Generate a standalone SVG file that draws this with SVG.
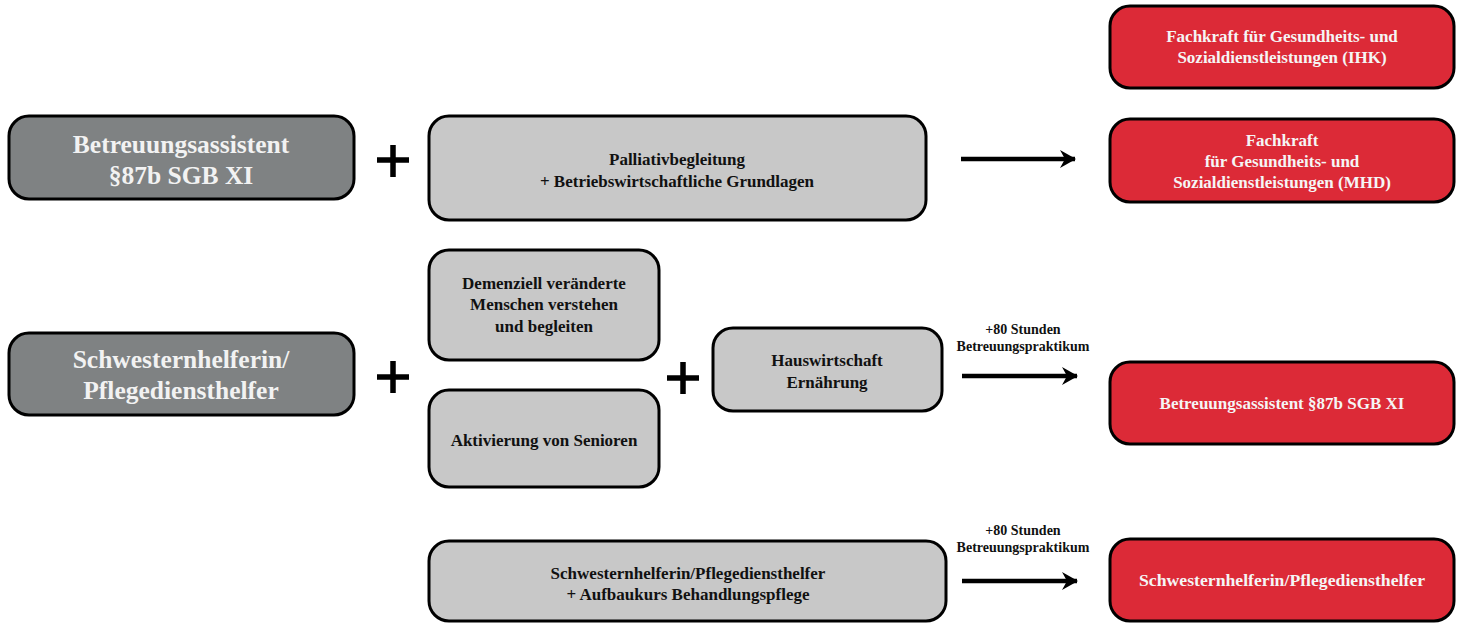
<svg xmlns="http://www.w3.org/2000/svg" width="1461" height="623" viewBox="0 0 1461 623">
<style>
.box{stroke:#000;stroke-width:3}
.dark{fill:#7f8283}
.light{fill:#c8c8c8}
.red{fill:#dc2a37}
text{font-family:"Liberation Serif","Times New Roman",serif;font-weight:bold;text-anchor:middle}
.big{font-size:25.5px;fill:#f2f2f2}
.mid{font-size:17px;fill:#111}
.wt{font-size:17px;fill:#f5f5f5}
.sm{font-size:14px;fill:#111}
.plus{stroke:#000;stroke-width:5.5}
.arr{stroke:#000;stroke-width:4.5}
</style>
<defs>
<marker id="ah" markerWidth="16" markerHeight="18" refX="15" refY="9" orient="auto" markerUnits="userSpaceOnUse">
<path d="M0,0 L16,9 L0,18 L5,9 Z" fill="#000"/>
</marker>
</defs>
<g id="n-betreuungsassistent">
<rect class="box dark" x="9" y="116" width="345" height="83" rx="20"/>
<text class="big" x="181" y="153">Betreuungsassistent</text>
<text class="big" x="181" y="184">§87b SGB XI</text>
</g>
<g id="plus1"><path class="plus" d="M377,160 H409 M393,145 V177"/></g>
<g id="n-palliativ">
<rect class="box light" x="429" y="116" width="497" height="104" rx="20"/>
<text class="mid" x="677" y="165">Palliativbegleitung</text>
<text class="mid" x="677" y="187">+ Betriebswirtschaftliche Grundlagen</text>
</g>
<g id="n-ihk">
<rect class="box red" x="1110" y="6" width="344" height="82" rx="20"/>
<text class="wt" x="1282" y="42">Fachkraft für Gesundheits- und</text>
<text class="wt" x="1282" y="63">Sozialdienstleistungen (IHK)</text>
</g>
<g id="n-mhd">
<rect class="box red" x="1110" y="119" width="344" height="83" rx="20"/>
<text class="wt" x="1282" y="146">Fachkraft</text>
<text class="wt" x="1282" y="167">für Gesundheits- und</text>
<text class="wt" x="1282" y="188">Sozialdienstleistungen (MHD)</text>
</g>
<g id="n-schwester">
<rect class="box dark" x="9" y="333" width="345" height="82" rx="20"/>
<text class="big" x="181" y="368">Schwesternhelferin/</text>
<text class="big" x="181" y="399">Pflegediensthelfer</text>
</g>
<g id="plus2"><path class="plus" d="M377,377 H409 M393,361 V393"/></g>
<g id="n-demenz">
<rect class="box light" x="429" y="250" width="230" height="110" rx="20"/>
<text class="mid" x="544" y="289">Demenziell veränderte</text>
<text class="mid" x="544" y="310">Menschen verstehen</text>
<text class="mid" x="544" y="332">und begleiten</text>
</g>
<g id="n-aktivierung">
<rect class="box light" x="429" y="390" width="230" height="97" rx="20"/>
<text class="mid" x="544" y="446">Aktivierung von Senioren</text>
</g>
<g id="plus3"><path class="plus" d="M667,378 H699 M683,362 V394"/></g>
<g id="n-hauswirtschaft">
<rect class="box light" x="713" y="328" width="229" height="83" rx="20"/>
<text class="mid" x="827" y="366">Hauswirtschaft</text>
<text class="mid" x="827" y="388">Ernährung</text>
</g>
<g id="n-betreuung-red">
<rect class="box red" x="1110" y="362" width="344" height="82" rx="20"/>
<text class="wt" x="1282" y="409">Betreuungsassistent §87b SGB XI</text>
</g>
<g id="n-aufbau">
<rect class="box light" x="429" y="541" width="517" height="80" rx="20"/>
<text class="mid" x="688" y="579">Schwesternhelferin/Pflegediensthelfer</text>
<text class="mid" x="688" y="600">+ Aufbaukurs Behandlungspflege</text>
</g>
<g id="n-schwester-red">
<rect class="box red" x="1110" y="539" width="344" height="82" rx="20"/>
<text class="wt" x="1282" y="586" textLength="286" lengthAdjust="spacingAndGlyphs">Schwesternhelferin/Pflegediensthelfer</text>
</g>
<g id="connectors">
<line class="arr" x1="961" y1="159" x2="1075" y2="159" marker-end="url(#ah)"/>
<line class="arr" x1="962" y1="376" x2="1077" y2="376" marker-end="url(#ah)"/>
<text class="sm" x="1023" y="334">+80 Stunden</text>
<text class="sm" x="1023" y="351">Betreuungspraktikum</text>
<line class="arr" x1="962" y1="581" x2="1077" y2="581" marker-end="url(#ah)"/>
<text class="sm" x="1023" y="535">+80 Stunden</text>
<text class="sm" x="1023" y="552">Betreuungspraktikum</text>
</g>
</svg>
